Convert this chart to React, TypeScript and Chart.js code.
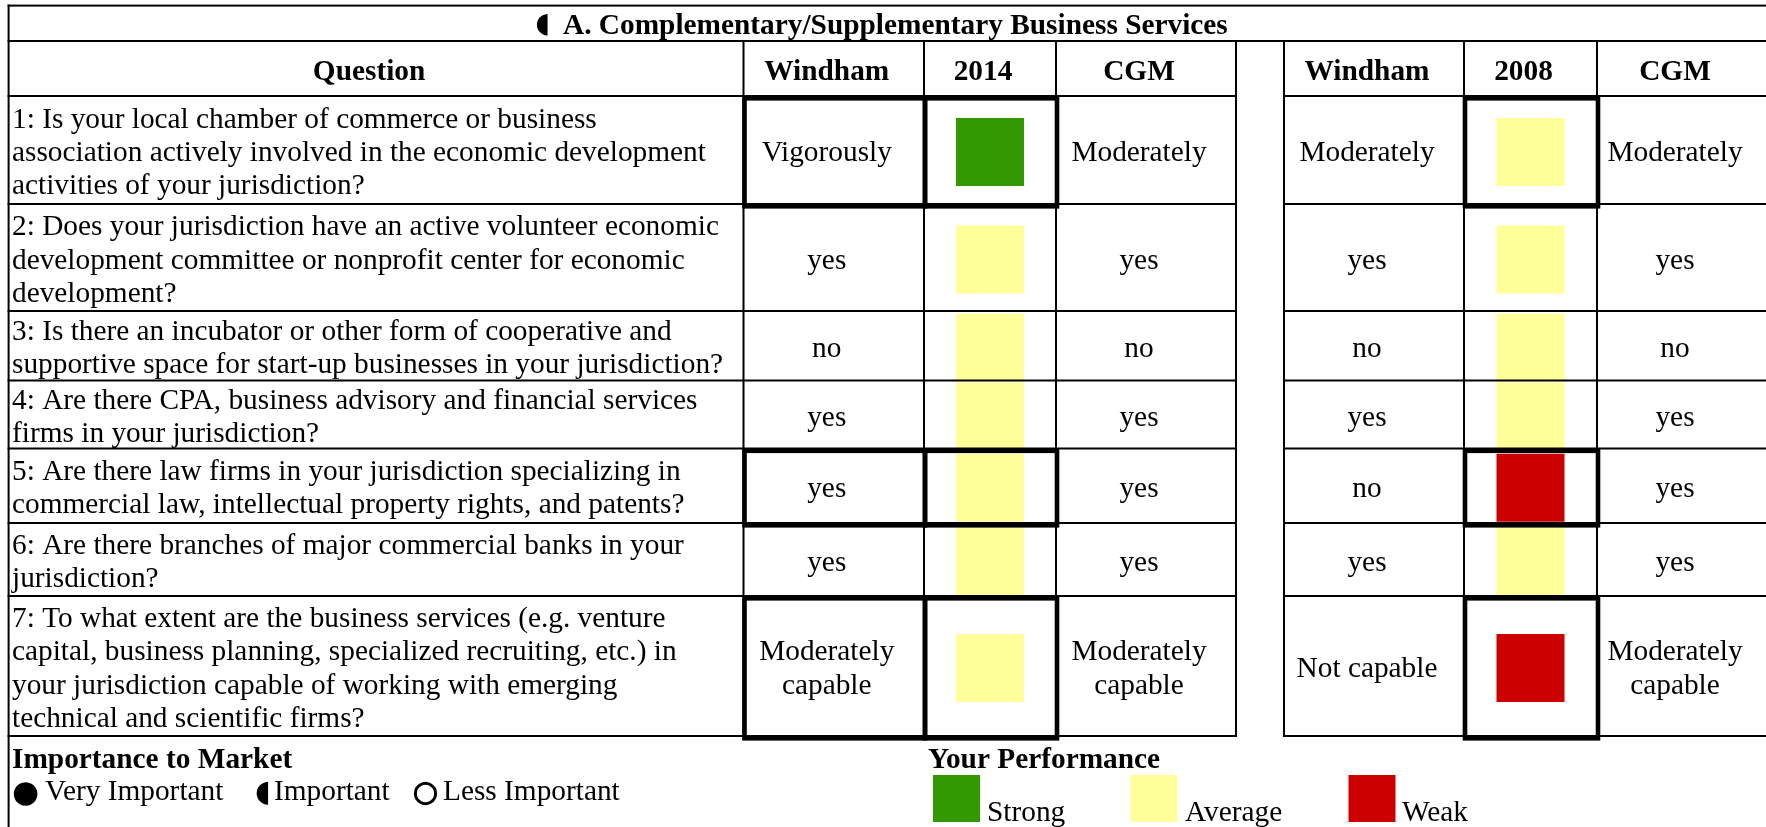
import React, { useEffect, useRef } from 'react';
import { Chart, registerables } from 'chart.js';

Chart.register(...registerables);

// ---------------- data ----------------
const TITLE_SYMBOL = '◖';
const TITLE = 'A. Complementary/Supplementary Business Services';
const HEADERS = ['Question', 'Windham', '2014', 'CGM', '', 'Windham', '2008', 'CGM'];

const QUESTIONS: string[][] = [
  ['1: Is your local chamber of commerce or business', 'association actively involved in the economic development', 'activities of your jurisdiction?'],
  ['2: Does your jurisdiction have an active volunteer economic', 'development committee or nonprofit center for economic', 'development?'],
  ['3: Is there an incubator or other form of cooperative and', 'supportive space for start-up businesses in your jurisdiction?'],
  ['4: Are there CPA, business advisory and financial services', 'firms in your jurisdiction?'],
  ['5: Are there law firms in your jurisdiction specializing in', 'commercial law, intellectual property rights, and patents?'],
  ['6: Are there branches of major commercial banks in your', 'jurisdiction?'],
  ['7: To what extent are the business services (e.g. venture', 'capital, business planning, specialized recruiting, etc.) in', 'your jurisdiction capable of working with emerging', 'technical and scientific firms?'],
];

const WINDHAM_2014 = ['Vigorously', 'yes', 'no', 'yes', 'yes', 'yes', 'Moderately\ncapable'];
const RATING_2014 = ['Strong', 'Average', 'Average', 'Average', 'Average', 'Average', 'Average'];
const CGM_2014 = ['Moderately', 'yes', 'no', 'yes', 'yes', 'yes', 'Moderately\ncapable'];

const WINDHAM_2008 = ['Moderately', 'yes', 'no', 'yes', 'no', 'yes', 'Not capable'];
const RATING_2008 = ['Average', 'Average', 'Average', 'Average', 'Weak', 'Average', 'Weak'];
const CGM_2008 = ['Moderately', 'yes', 'no', 'yes', 'yes', 'yes', 'Moderately\ncapable'];

// questions (1-based) whose cells carry a heavy frame
const BOXED_2014 = [1, 5, 7];
const BOXED_2008 = [1, 5, 7];

const RATING_LEVELS = ['Strong', 'Average', 'Weak'];
const RATING_COLORS = ['#339900', '#FFFF99', '#CC0000'];

const IMPORTANCE_TITLE = 'Importance to Market';
const IMPORTANCE_SYMBOLS = ['●', '◖', '○'];
const IMPORTANCE_LABELS = ['Very Important', 'Important', 'Less Important'];
const PERFORMANCE_TITLE = 'Your Performance';

// ---------------- layout ----------------
const W = 1766;
const H = 827;
const COL_EDGES = [8.6, 743.5, 924, 1056, 1236, 1284, 1464, 1597, 1767];
const TABLE_TOP = 5.6;
const TITLE_BOTTOM = 41;
const ROW_EDGES = [96, 204, 311, 380.5, 448.5, 523, 596, 736];
const GAP_COL = 4;
const RATING_COL_2014 = 2;
const RATING_COL_2008 = 6;
const SQUARE = 68;
const LEGEND_SQUARE = 47;
const LEGEND_SQUARE_CENTERS = [[956.5, 798.5], [1154, 798.5], [1372, 798.5]];
const LEGEND_LABEL_X = [987, 1185, 1402];
const IMP_SYMBOL_X = [12, 255, 413];
const IMP_SYMBOL_SIZE = [31, 30, 28.5];
const IMP_SYMBOL_BASE = [802, 801, 801];
const IMP_SYMBOL_STROKE = [0, 0, 1.3];
const IMP_LABEL_X = [45, 274, 443];

const FONT = '"Liberation Serif", "Times New Roman", serif';
const SYMBOL_FONT = '"DejaVu Sans", sans-serif';
const FS = 29.33;
const LH = 33.4;
const TEXT_SHIFT = -7;

const colCenter = (c: number) => (COL_EDGES[c] + COL_EDGES[c + 1]) / 2;
const rowCenter = (r: number) => (ROW_EDGES[r] + ROW_EDGES[r + 1]) / 2;
const colorOf = (rating: string) => RATING_COLORS[RATING_LEVELS.indexOf(rating)];

const tablePlugin = {
  id: 'tableGrid',
  afterDatasetsDraw(chart: any) {
    const { ctx } = chart;
    const sx = chart.scales.x;
    const sy = chart.scales.y;
    const X = (v: number) => sx.getPixelForValue(v);
    const Y = (v: number) => sy.getPixelForValue(v);
    ctx.save();
    ctx.fillStyle = '#000';

    const hLine = (y: number, x0: number, x1: number, w = 2) => {
      ctx.fillRect(X(x0), Y(y) - w / 2, X(x1) - X(x0), w);
    };
    const vLine = (x: number, y0: number, y1: number, w = 2) => {
      ctx.fillRect(X(x) - w / 2, Y(y0), w, Y(y1) - Y(y0));
    };

    // outer / title lines
    hLine(TABLE_TOP, COL_EDGES[0] - 1, W);
    hLine(TITLE_BOTTOM, COL_EDGES[0] - 1, W);
    vLine(COL_EDGES[0], TABLE_TOP - 1, H);
    // row lines (skip the gap column)
    ROW_EDGES.forEach((ry) => {
      hLine(ry, COL_EDGES[0] - 1, COL_EDGES[GAP_COL] + 1);
      hLine(ry, COL_EDGES[GAP_COL + 1] - 1, W);
    });
    // column lines
    COL_EDGES.slice(1, COL_EDGES.length - 1).forEach((cx) => {
      vLine(cx, TITLE_BOTTOM, ROW_EDGES[ROW_EDGES.length - 1] + 1);
    });

    // heavy frames
    ctx.strokeStyle = '#000';
    ctx.lineWidth = 4.6;
    const box = (c: number, r: number) => {
      const x0 = X(COL_EDGES[c]) + 1;
      const x1 = X(COL_EDGES[c + 1]) + 1;
      const y0 = Y(ROW_EDGES[r]) + 2.3;
      const y1 = Y(ROW_EDGES[r + 1]) + 2.3;
      ctx.strokeRect(x0, y0, x1 - x0, y1 - y0);
    };
    BOXED_2014.forEach((q) => { box(1, q - 1); box(RATING_COL_2014, q - 1); });
    BOXED_2008.forEach((q) => { box(RATING_COL_2008, q - 1); });

    // text
    ctx.textBaseline = 'alphabetic';
    const centered = (text: string, c: number, top: number, bottom: number, bold = false) => {
      const lines = text.split('\n');
      ctx.font = `${bold ? 'bold ' : ''}${FS}px ${FONT}`;
      ctx.textAlign = 'center';
      const mid = (top + bottom) / 2 + 11;
      lines.forEach((ln, i) => {
        ctx.fillText(ln, X(colCenter(c) + TEXT_SHIFT), Y(mid + (i - (lines.length - 1) / 2) * LH));
      });
    };

    // title
    ctx.font = `bold ${FS}px ${FONT}`;
    ctx.textAlign = 'left';
    ctx.fillText(TITLE, X(563), Y(33.5));
    ctx.font = `28px ${SYMBOL_FONT}`;
    ctx.textAlign = 'center';
    ctx.fillText(TITLE_SYMBOL, X(543), Y(31.5));

    // headers
    HEADERS.forEach((h, c) => { if (h) centered(h, c, TITLE_BOTTOM, ROW_EDGES[0], true); });

    // body
    QUESTIONS.forEach((lines, r) => {
      const top = ROW_EDGES[r];
      const bottom = ROW_EDGES[r + 1];
      ctx.font = `${FS}px ${FONT}`;
      ctx.textAlign = 'left';
      const mid = (top + bottom) / 2 + 11;
      lines.forEach((ln, i) => {
        ctx.fillText(ln, X(12), Y(mid + (i - (lines.length - 1) / 2) * LH));
      });
      centered(WINDHAM_2014[r], 1, top, bottom);
      centered(CGM_2014[r], 3, top, bottom);
      centered(WINDHAM_2008[r], 5, top, bottom);
      centered(CGM_2008[r], 7, top, bottom);
    });

    // legends
    ctx.textAlign = 'left';
    ctx.font = `bold ${FS}px ${FONT}`;
    ctx.fillText(IMPORTANCE_TITLE, X(12), Y(768));
    ctx.fillText(PERFORMANCE_TITLE, X(928), Y(768));
    ctx.font = `${FS}px ${FONT}`;
    IMPORTANCE_LABELS.forEach((l, i) => ctx.fillText(l, X(IMP_LABEL_X[i]), Y(800)));
    RATING_LEVELS.forEach((l, i) => ctx.fillText(l, X(LEGEND_LABEL_X[i]), Y(821)));
    IMPORTANCE_SYMBOLS.forEach((s, i) => {
      ctx.font = `${IMP_SYMBOL_SIZE[i]}px ${SYMBOL_FONT}`;
      ctx.fillText(s, X(IMP_SYMBOL_X[i]), Y(IMP_SYMBOL_BASE[i]));
      if (IMP_SYMBOL_STROKE[i] > 0) {
        ctx.lineWidth = IMP_SYMBOL_STROKE[i];
        ctx.strokeText(s, X(IMP_SYMBOL_X[i]), Y(IMP_SYMBOL_BASE[i]));
      }
    });

    ctx.restore();
  },
};

export default function App() {
  const ref = useRef<HTMLCanvasElement | null>(null);

  useEffect(() => {
    document.body.style.margin = '0';
    document.body.style.overflow = 'hidden';
    if (!ref.current) return;

    const squares = [
      ...RATING_2014.map((r, i) => ({ x: colCenter(RATING_COL_2014), y: rowCenter(i) + 2, c: colorOf(r) })),
      ...RATING_2008.map((r, i) => ({ x: colCenter(RATING_COL_2008), y: rowCenter(i) + 2, c: colorOf(r) })),
    ];
    const legendPts = RATING_LEVELS.map((r, i) => ({ x: LEGEND_SQUARE_CENTERS[i][0], y: LEGEND_SQUARE_CENTERS[i][1], c: colorOf(r) }));

    const chart = new Chart(ref.current, {
      type: 'scatter',
      data: {
        datasets: [
          {
            label: 'Performance',
            data: squares.map((p) => ({ x: p.x, y: p.y })),
            backgroundColor: squares.map((p) => p.c),
            pointStyle: 'rect',
            pointRadius: SQUARE / Math.SQRT2,
            pointHoverRadius: SQUARE / Math.SQRT2,
            borderWidth: 0,
            pointBorderWidth: 0,
            clip: false,
          } as any,
          {
            label: 'Legend',
            data: legendPts.map((p) => ({ x: p.x, y: p.y })),
            backgroundColor: legendPts.map((p) => p.c),
            pointStyle: 'rect',
            pointRadius: LEGEND_SQUARE / Math.SQRT2,
            pointHoverRadius: LEGEND_SQUARE / Math.SQRT2,
            borderWidth: 0,
            pointBorderWidth: 0,
            clip: false,
          } as any,
        ],
      },
      options: {
        animation: false,
        responsive: true,
        maintainAspectRatio: false,
        devicePixelRatio: 1,
        events: [],
        layout: { padding: 0, autoPadding: false },
        scales: {
          x: { type: 'linear', min: 0, max: W, display: false },
          y: { type: 'linear', min: 0, max: H, reverse: true, display: false },
        },
        plugins: { legend: { display: false }, tooltip: { enabled: false } },
      },
      plugins: [tablePlugin],
    });
    return () => chart.destroy();
  }, []);

  return (
    <div style={{ position: 'relative', width: W, height: H, background: '#fff' }}>
      <canvas ref={ref} />
    </div>
  );
}
